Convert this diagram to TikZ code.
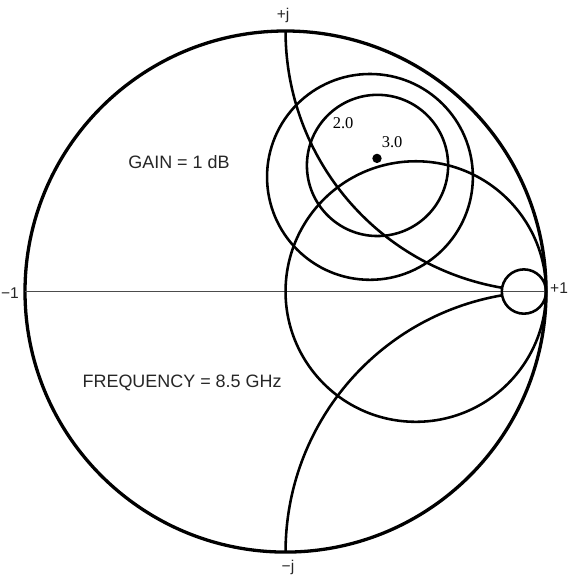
\documentclass[tikz,border=0pt]{standalone}
\usepackage{fontspec}
\setmainfont{Liberation Sans}
\newfontfamily\gainfont{Liberation Serif}
\begin{document}
\begin{tikzpicture}[x=5cm,y=5cm,
   rim/.style={line width=1.8pt},
   curve/.style={line width=1.4pt},
   axis/.style={line width=1pt,black!70},
   note/.style={font=\fontsize{9.8}{12}\selectfont,text=black!85},
   tick/.style={font=\fontsize{8.5}{10}\selectfont,inner sep=0pt,text=black!85},
   gainlbl/.style={font=\gainfont\fontsize{9}{11}\selectfont,inner sep=0pt}]
   \useasboundingbox (-1.096,-1.088) rectangle (1.104,1.119);
   \coordinate (W) at (180:1);
   \coordinate (E) at (0:1);
   \draw[rim] (0,0) circle (1);
   \draw[axis] (W) -- (E);
   % r = 1 circle and the two reactance arcs
   \draw[curve] (0.5,0) circle (0.5);
   \draw[curve] (0,1) arc[start angle=180,end angle=260.3,radius=1];
   \draw[curve] (0,-1) arc[start angle=180,end angle=99.7,radius=1];
   \draw[curve] (0.915,0) circle (0.085);
   % gain circles
   \draw[curve] (0.324,0.440) circle (0.395);
   \draw[curve] (0.353,0.484) circle (0.271);
   \fill (0.351,0.511) circle (0.018);
   \node[gainlbl] (g2) at (0.221,0.647) {2.0};
   \node[gainlbl] (g3) at (0.409,0.574) {3.0};
   \node[note] (gain) at (-0.409,0.497) {GAIN = 1 dB};
   \node[note] (freq) at (-0.397,-0.351) {FREQUENCY = 8.5 GHz};
   \foreach \a/\r/\l/\n in
     { 90.5/1.061/{+j}/pj,
      180.3/1.058/{−1}/mo,
        0.7/1.050/{+1}/po,
      270.5/1.058/{−j}/mj
     }
     \node[tick] (\n) at (\a:\r) {\l};
\end{tikzpicture}
\end{document}
